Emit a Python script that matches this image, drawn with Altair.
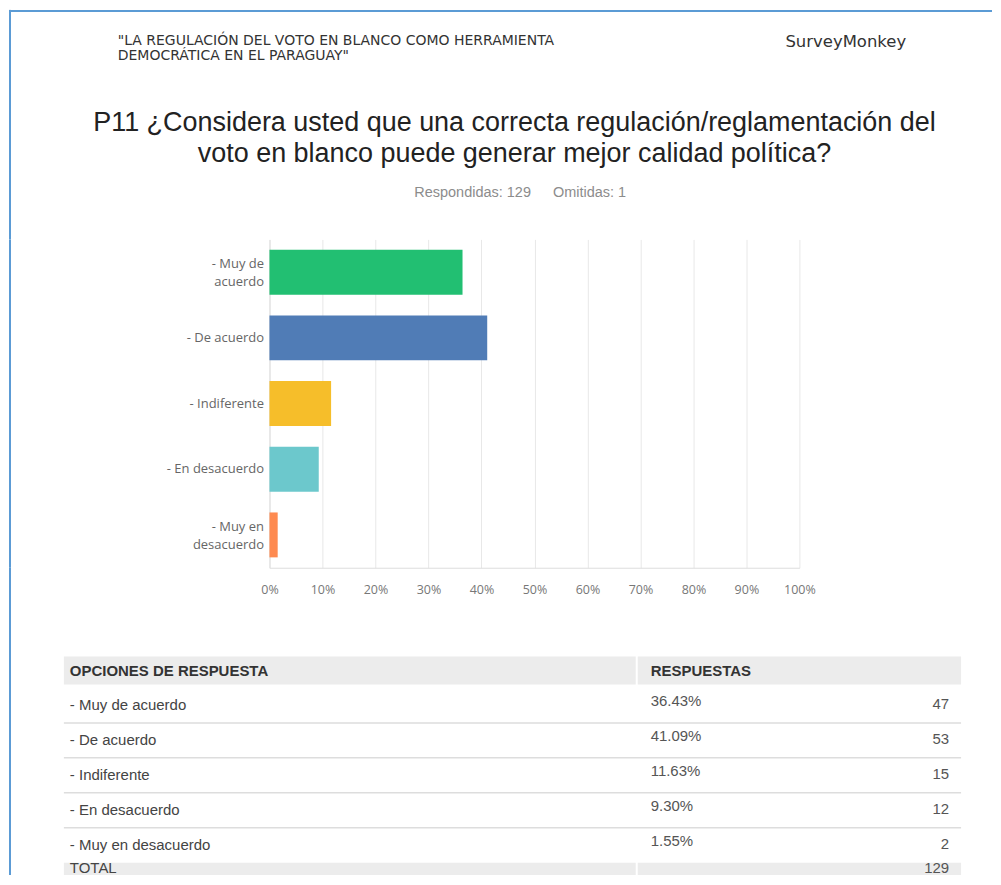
import altair as alt
import pandas as pd

# ---------------- data ----------------
HEADER_LINES = ['"LA REGULACIÓN DEL VOTO EN BLANCO COMO HERRAMIENTA', 'DEMOCRÁTICA EN EL PARAGUAY"']
BRAND = "SurveyMonkey"
TITLE_LINES = [
    "P11 ¿Considera usted que una correcta regulación/reglamentación del",
    "voto en blanco puede generar mejor calidad política?",
]
ANSWERED_TEXT = "Respondidas: 129"
SKIPPED_TEXT = "Omitidas: 1"

categories = ["- Muy de acuerdo", "- De acuerdo", "- Indiferente", "- En desacuerdo", "- Muy en desacuerdo"]
percents = [36.43, 41.09, 11.63, 9.30, 1.55]
counts = [47, 53, 15, 12, 2]
colors = ["#22bf72", "#507cb6", "#f6be2a", "#6cc8cc", "#fe8a50"]
x_ticks = [0, 0.1, 0.2, 0.3, 0.4, 0.5, 0.6, 0.7, 0.8, 0.9, 1.0]

HEAD_LEFT = "OPCIONES DE RESPUESTA"
HEAD_RIGHT = "RESPUESTAS"
TOTAL_LABEL = "TOTAL"

BLUE = "#5b9bd5"
one = alt.Data(values=[{"k": 1}])

# all panels share the plot origin of the bar chart (page x = 269)
LEFT = -261      # page x = 8
RIGHT = 724      # page x = 993


def border(x, x2, y, y2):
    return alt.Chart(one).mark_rect(color=BLUE).encode(
        x=alt.value(x), x2=alt.value(x2), y=alt.value(y), y2=alt.value(y2)
    )


# ---------------- header panel ----------------
H1 = 230
header = alt.layer(
    border(LEFT, RIGHT, 0, 2),
    border(LEFT, LEFT + 2, 0, H1),
    alt.Chart(one).mark_text(text=HEADER_LINES, align="left", baseline="alphabetic",
                             font="DejaVu Sans", fontSize=14, lineHeight=15, color="#333333")
        .encode(x=alt.value(-152), y=alt.value(35)),
    alt.Chart(one).mark_text(text=BRAND, align="left", baseline="alphabetic",
                             font="DejaVu Sans", fontSize=16.5, color="#333333")
        .encode(x=alt.value(517), y=alt.value(37)),
    alt.Chart(one).mark_text(text=TITLE_LINES, align="center", baseline="alphabetic",
                             font="Liberation Sans", fontSize=27, lineHeight=31.5, color="#222222")
        .encode(x=alt.value(245.5), y=alt.value(121)),
    alt.Chart(one).mark_text(text=ANSWERED_TEXT, align="right", baseline="alphabetic",
                             font="Liberation Sans", fontSize=14.5, color="#8c8c8c")
        .encode(x=alt.value(262), y=alt.value(188)),
    alt.Chart(one).mark_text(text=SKIPPED_TEXT, align="left", baseline="alphabetic",
                             font="Liberation Sans", fontSize=14.5, color="#8c8c8c")
        .encode(x=alt.value(284), y=alt.value(188)),
).properties(width=RIGHT, height=H1)

# ---------------- bar panel ----------------
BW = 531
BH = 329
bar_df = pd.DataFrame({
    "cat": categories,
    "share": [p / 100 for p in percents],
    "color": colors,
})

label_expr = ("datum.value == '- Muy de acuerdo' ? ['- Muy de', 'acuerdo'] : "
              "datum.value == '- Muy en desacuerdo' ? ['- Muy en', 'desacuerdo'] : datum.value")

bars = alt.Chart(bar_df).mark_bar().encode(
    x=alt.X("share:Q", scale=alt.Scale(domain=[0, 1], nice=False),
            axis=alt.Axis(values=x_ticks, format=".0%", title=None, grid=True,
                          gridColor="#e8e8e8", domainColor="#dddddd", ticks=False,
                          labelFlush=False, labelOverlap=False,
                          labelPadding=16, labelFont="Open Sans", labelFontSize=12.5,
                          labelColor="#777777")),
    y=alt.Y("cat:N", sort=categories,
            scale=alt.Scale(paddingInner=0.316, paddingOuter=0.158),
            axis=alt.Axis(title=None, ticks=False, domainColor="#dddddd", labelPadding=6,
                          labelFont="Open Sans", labelFontSize=13, labelColor="#666666",
                          labelLimit=250, labelExpr=label_expr, labelLineHeight=18,
                          labelOffset={"condition": {"test": "indexof(datum.value, 'Muy') >= 0",
                                                     "value": -8},
                                       "value": 0})),
    color=alt.Color("color:N", scale=None),
)

bar_panel = alt.layer(
    border(LEFT, LEFT + 2, 0, BH),
    bars,
).properties(width=BW, height=BH)

# ---------------- table panel ----------------
T0 = 85.5        # gap between the bar plot and the table
TH = 308
STEP = 35
table_rows = ["head"] + [f"r{i}" for i in range(len(categories))] + ["total"]
table_df = pd.DataFrame({
    "row": table_rows,
    "label": [HEAD_LEFT] + categories + [TOTAL_LABEL],
    "pct": [HEAD_RIGHT] + [f"{p:.2f}%" for p in percents] + [""],
    "count": [""] + [str(c) for c in counts] + [str(sum(counts))],
    "kind": ["head"] + ["body"] * len(categories) + ["total"],
})

tscale = alt.Scale(domain=table_rows, paddingInner=0, paddingOuter=0,
                   range=[T0, T0 + STEP * len(table_rows)])
ty = alt.Y("row:N", scale=tscale, axis=None)
ty_start = alt.Y("row:N", scale=tscale, axis=None, bandPosition=0)

base = alt.Chart(table_df)
body = base.transform_filter("datum.kind == 'body'")
head = base.transform_filter("datum.kind == 'head'")
total = base.transform_filter("datum.kind == 'total'")

FONT = "Liberation Sans"
FS = 15
GREY_BG = "#ececec"
table_panel = alt.layer(
    border(LEFT, LEFT + 2, 0, TH),
    head.mark_bar(size=28, color=GREY_BG)
        .encode(y=ty, x=alt.value(-206), x2=alt.value(367)),
    head.mark_bar(size=28, color=GREY_BG)
        .encode(y=ty, x=alt.value(369), x2=alt.value(693)),
    total.mark_rect(color=GREY_BG)
        .encode(y=ty_start, y2=alt.value(TH), x=alt.value(-206), x2=alt.value(367)),
    total.mark_rect(color=GREY_BG)
        .encode(y=ty_start, y2=alt.value(TH), x=alt.value(369), x2=alt.value(693)),
    body.transform_filter("datum.row != 'r0'").mark_rule(color="#dddddd", strokeWidth=1.5)
        .encode(y=ty_start, x=alt.value(-206), x2=alt.value(693)),
    head.mark_text(align="left", baseline="middle", font=FONT, fontSize=FS,
                   fontWeight="bold", color="#333333")
        .encode(y=ty, x=alt.value(-200), text="label:N"),
    head.mark_text(align="left", baseline="middle", font=FONT, fontSize=FS,
                   fontWeight="bold", color="#333333")
        .encode(y=ty, x=alt.value(382), text="pct:N"),
    body.mark_text(align="left", baseline="middle", font=FONT, fontSize=FS, color="#444444")
        .encode(y=ty, x=alt.value(-200), text="label:N"),
    body.mark_text(align="left", baseline="middle", font=FONT, fontSize=FS,
                   color="#555555", dy=-4)
        .encode(y=ty, x=alt.value(382), text="pct:N"),
    body.mark_text(align="right", baseline="middle", font=FONT, fontSize=FS,
                   color="#555555", dy=-1)
        .encode(y=ty, x=alt.value(681), text="count:N"),
    total.mark_text(align="left", baseline="middle", font=FONT, fontSize=FS,
                    color="#444444", dy=-12)
        .encode(y=ty, x=alt.value(-200), text="label:N"),
    total.mark_text(align="right", baseline="middle", font=FONT, fontSize=FS,
                    color="#555555", dy=-12)
        .encode(y=ty, x=alt.value(681), text="count:N"),
).properties(width=RIGHT, height=TH)

chart = alt.vconcat(header, bar_panel, table_panel, spacing=0, bounds="flush").properties(
    padding=0
).configure_view(stroke="transparent")

chart.save("out.html", embed_options={"renderer": "svg", "actions": False})
